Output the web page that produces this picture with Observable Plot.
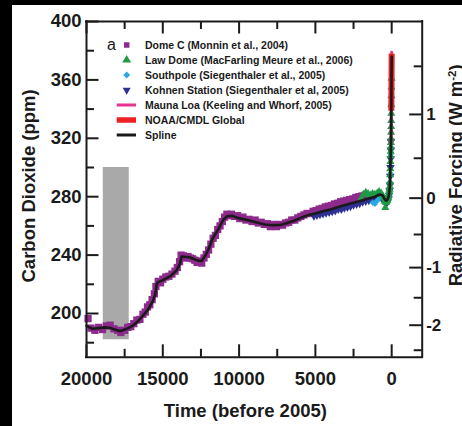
<!DOCTYPE html>
<html><head><meta charset="utf-8">
<script src="https://cdn.jsdelivr.net/npm/d3@7"></script>
<script src="https://cdn.jsdelivr.net/npm/@observablehq/plot@0.6"></script>
<style>
html,body{margin:0;padding:0;background:#000;width:462px;height:426px;overflow:hidden}
#chart{position:absolute;left:12px;top:5px;width:450px;height:421px;background:#fff;overflow:hidden}
</style></head><body><div id="chart"></div>
<script>
const FONT = "'Liberation Sans', Arial, Helvetica, sans-serif";

// ---- data: [years before 2005, CO2 ppm] ----
const spline = [[20000,191.5],[19600,189.5],[19200,190],[18800,190.5],[18400,190],[18000,188.5],[17800,187.8],[17500,189],[17250,190],[17000,191.5],[16700,194],[16300,198.5],[15950,203],[15650,208.5],[15500,213],[15400,220],[15300,221.5],[14950,223],[14450,226],[14100,229.5],[13880,234],[13770,239],[13250,238.5],[12700,236.2],[12450,236],[12250,239],[12000,244],[11750,251],[11350,258],[11050,264],[10800,266.5],[10450,267],[10100,265.5],[9800,264.8],[9400,263.8],[8900,262.5],[8300,261],[7800,260.5],[7300,260.6],[6900,261.8],[6400,263.5],[5900,265.8],[5500,267.3],[5000,268.5],[4500,270],[4000,271.3],[3500,273],[3000,274.5],[2500,275.8],[2000,277.3],[1500,278.8],[1100,280],[800,281.5],[600,281],[500,279],[400,277.5],[300,277.5],[200,280],[150,284],[120,288],[100,295],[80,303],[60,310],[45,317],[35,325],[25,339],[15,354],[5,369],[0,376]];

const domeC = [[19900,196.5],[19700,190],[19450,188.5],[19200,190.5],[18950,189],[18700,191.5],[18450,192],[18200,189.5],[17950,188.5],[17750,187],[17500,188.5],[17300,190.5],[17100,191],[16900,193],[16700,195.5],[16500,196],[16300,199.5],[16150,201],[16000,204.5],[15850,206],[15700,209.5],[15550,213.5],[15450,218.5],[15300,222],[15150,221],[15000,223.5],[14800,225],[14600,225.5],[14400,227],[14200,229],[14050,231.5],[13900,235.5],[13800,240],[13650,239.5],[13500,238],[13350,239],[13200,238],[13050,237.5],[12900,236.5],[12750,235],[12600,236],[12450,234.5],[12300,238],[12150,240.5],[12000,243.5],[11850,247.5],[11700,251.5],[11550,253.5],[11400,257.5],[11250,260],[11100,263],[10950,266],[10800,268],[10650,267],[10500,268],[10300,266.5],[10100,267],[9950,265],[9750,266],[9550,264],[9350,264.5],[9150,263],[8950,264],[8750,262],[8550,262.5],[8350,261],[8150,261.5],[7950,259.5],[7750,261],[7550,259.5],[7350,261],[7150,260.5],[6950,262],[6750,262.5],[6550,264],[6350,264],[6150,265.5],[5950,266.5],[5750,267.5],[5550,268.5],[5350,268.5],[5150,270],[4950,270.5],[4750,271.5],[4550,272],[4350,273],[4150,273.5],[3950,274],[3750,275],[3550,275.5],[3350,276.5],[3150,277],[2950,277.5],[2750,278],[2550,278.5],[2350,279.5],[2150,280],[1950,280.5],[1750,281]];

const kohnen = [[5100,267],[4900,267.5],[4700,268],[4500,268.5],[4300,269],[4100,269.5],[3900,270],[3700,270.5],[3500,271.5],[3300,271.5],[3100,272.5],[2900,273],[2700,273.5],[2500,274.5],[2300,275],[2100,275.5],[1900,276.5],[1700,277],[1500,277.5],[1350,279],[1200,278.5],[1050,280],[950,279.5],[850,281],[750,280],[650,279.5],[550,278],[450,276.5],[380,275.5],[320,276],[260,277],[210,279],[170,281],[140,284],[115,288],[95,294],[80,300],[65,306],[55,312],[48,318]];

const southpole = [[1250,276],[1100,275],[980,277],[870,278],[760,279.5],[660,280.5],[560,279.5],[470,278],[400,277],[330,277.5],[270,278.5],[220,280],[180,282],[140,285],[110,290],[90,296],[70,303],[55,309],[42,314]];

const lawDome = [[2000,279],[1850,281.5],[1700,283],[1550,282],[1400,281],[1250,282],[1100,281.5],[950,282.5],[820,283.5],[700,282.5],[600,281],[520,279],[470,277],[420,272.5],[380,276],[330,276.5],[280,277.5],[230,279],[190,281],[160,283.5],[140,285],[125,287],[110,290],[100,295],[90,299],[80,304],[72,308],[64,311],[57,314],[50,317],[44,320],[38,324],[33,328],[28,332],[24,337],[20,343],[16,349],[13,355],[10,361]];

const maunaLoa = [[47,315.9],[45,317.6],[40,320],[35,325.7],[30,331.1],[25,338.7],[20,345.9],[15,354.4],[10,361.8],[5,369.5],[0,379]];
const noaa = [[25,338.9],[20,345.4],[15,354],[10,361],[5,369],[0,378]];

// grey box (LGM) in data units
const lgmBox = [{x1: 18900, x2: 17200, y1: 182, y2: 300}];

// tick values
const xDomain = [20000, -2000];
const yDomain = [170, 400];
const xMajor = [20000, 15000, 10000, 5000, 0];
const xMinor = [17500, 12500, 7500, 2500];
const yMajor = [200, 240, 280, 320, 360, 400];
const yMinor = [180, 220, 260, 300, 340, 380];
const rfMajor = [-2, -1, 0, 1];
const rfMinor = [-2.5, -1.5, -0.5, 0.5, 1.5];
const C0 = 279; // ppm at zero forcing
const rfToCO2 = rf => C0 * Math.exp(rf / 5.35);

const legendLabels = ["Dome C (Monnin et al., 2004)", "Law Dome (MacFarling Meure et al., 2006)", "Southpole (Siegenthaler et al., 2005)", "Kohnen Station (Siegenthaler et al, 2005)", "Mauna Loa (Keeling and Whorf, 2005)", "NOAA/CMDL Global", "Spline"];

// colours
const cPurple = "#8e2a8c", cGreen = "#1f9a45", cCyan = "#29a9e1", cBlue = "#2e3192", cPink = "#e8358f", cRed = "#ec2227", cInk = "#1a1a1a";

// ---- layout ----
const W = 450, H = 421, mt = 16, mb = 69.2, ml = 74, mr = 40.3;
const frameH = H - mt - mb, frameW = W - ml - mr;
const majLen = 12.5, minLen = 8;

const X = d => d[0], Y = d => d[1];
const bold = {fontWeight: "bold", fill: cInk, lineAnchor: "middle"};

const svg = Plot.plot({
  width: W, height: H,
  marginTop: mt, marginBottom: mb, marginLeft: ml, marginRight: mr,
  style: {fontFamily: FONT, background: "white", overflow: "visible", color: cInk},
  x: {domain: xDomain, axis: null},
  y: {domain: yDomain, axis: null},
  marks: [
    Plot.rect(lgmBox, {x1: "x1", x2: "x2", y1: "y1", y2: "y2", fill: "#a9a9a9"}),
    Plot.dot(domeC, {x: X, y: Y, symbol: "square", r: 4.1, fill: cPurple}),
    Plot.dot(kohnen, {x: X, y: Y, symbol: "triangle", rotate: 180, r: 3.2, fill: cBlue}),
    Plot.dot(southpole, {x: X, y: Y, symbol: "diamond2", r: 2.8, fill: cCyan}),
    Plot.dot(lawDome, {x: X, y: Y, symbol: "triangle", r: 3, fill: cGreen}),
    Plot.line(maunaLoa, {x: X, y: Y, stroke: cPink, strokeWidth: 3}),
    Plot.line(noaa, {x: X, y: Y, stroke: cRed, strokeWidth: 6, strokeLinecap: "butt"}),
    Plot.line(spline, {x: X, y: Y, stroke: cInk, strokeWidth: 2.6, strokeLinejoin: "round"}),
    // ticks (inward)
    Plot.tickX(xMajor, {x: d => d, insetTop: frameH - majLen, stroke: cInk, strokeWidth: 2}),
    Plot.tickX(xMinor, {x: d => d, insetTop: frameH - minLen, stroke: cInk, strokeWidth: 2}),
    Plot.tickX(xMajor, {x: d => d, insetBottom: frameH - majLen, stroke: cInk, strokeWidth: 2}),
    Plot.tickX(xMinor, {x: d => d, insetBottom: frameH - minLen, stroke: cInk, strokeWidth: 2}),
    Plot.tickY(yMajor, {y: d => d, insetRight: frameW - majLen, stroke: cInk, strokeWidth: 2}),
    Plot.tickY(yMinor, {y: d => d, insetRight: frameW - minLen, stroke: cInk, strokeWidth: 2}),
    Plot.tickY(rfMajor, {y: rfToCO2, insetLeft: frameW - majLen, stroke: cInk, strokeWidth: 2}),
    Plot.tickY(rfMinor, {y: rfToCO2, insetLeft: frameW - minLen, stroke: cInk, strokeWidth: 2}),
    // frame
    Plot.ruleX(xDomain, {x: d => d, stroke: cInk, strokeWidth: 2, strokeLinecap: "square"}),
    Plot.ruleY(yDomain, {y: d => d, stroke: cInk, strokeWidth: 2, strokeLinecap: "square"}),
    // tick labels
    Plot.text(xMajor, {x: d => d, text: d => String(d), frameAnchor: "bottom", dy: 22, fontSize: 18.5, ...bold}),
    Plot.text(yMajor, {y: d => d, text: d => String(d), frameAnchor: "left", textAnchor: "end", dx: -5, fontSize: 18.5, ...bold}),
    Plot.text(rfMajor, {y: rfToCO2, text: d => String(d), frameAnchor: "right", textAnchor: "start", dx: 4, fontSize: 17, ...bold}),
    // titles
    Plot.text(["Time (before 2005)"], {text: d => d, frameAnchor: "bottom", textAnchor: "middle", dx: -9, dy: 54, fontSize: 18.5, ...bold}),
    Plot.text(["Carbon Dioxide (ppm)"], {text: d => d, frameAnchor: "left", textAnchor: "middle", dx: -57, dy: -3.5, rotate: -90, fontSize: 18.5, ...bold}),
    Plot.text(["Radiative Forcing (W m-2)"], {text: d => d, frameAnchor: "right", textAnchor: "middle", dx: 34, dy: -14, rotate: -90, fontSize: 18.5, ...bold})
  ]
});

// superscript for the right title
d3.select(svg).selectAll("text").filter(function() { return this.textContent === "Radiative Forcing (W m-2)"; })
  .each(function() {
    const t = d3.select(this);
    t.text(null);
    t.append("tspan").text("Radiative Forcing (W m");
    t.append("tspan").attr("dy", "-0.55em").attr("font-size", "0.62em").text("-2");
    t.append("tspan").attr("dy", "0.34em").text(")");
  });

// legend
const lg = d3.select(svg).append("g").attr("font-family", FONT).attr("fill", cInk).attr("text-anchor", "start");
lg.append("text").attr("x", 95).attr("y", 40).attr("dy", "0.33em").attr("font-size", 16).text("a");
const legendMarks = [
  {type: "sym", sym: d3.symbolSquare, size: 30, fill: cPurple},
  {type: "sym", sym: d3.symbolTriangle, size: 34, fill: cGreen},
  {type: "sym", sym: d3.symbolDiamond2, size: 30, fill: cCyan},
  {type: "sym", sym: d3.symbolTriangle, size: 28, fill: cBlue, rot: 180},
  {type: "line", stroke: cPink, w: 3},
  {type: "line", stroke: cRed, w: 5.5},
  {type: "line", stroke: cInk, w: 3}
];
legendLabels.forEach((lab, i) => {
  const cy = 40 + i * 15;
  const m = legendMarks[i];
  if (m.type === "sym") {
    lg.append("path").attr("d", d3.symbol(m.sym, m.size)())
      .attr("transform", `translate(114.7,${cy})` + (m.rot ? ` rotate(${m.rot})` : ""))
      .attr("fill", m.fill);
  } else {
    lg.append("line").attr("x1", 104.7).attr("x2", 124).attr("y1", cy).attr("y2", cy)
      .attr("stroke", m.stroke).attr("stroke-width", m.w);
  }
  lg.append("text").attr("x", 133).attr("y", cy).attr("dy", "0.36em")
    .attr("font-size", 10.5).attr("font-weight", "bold").text(lab);
});

document.getElementById("chart").appendChild(svg);
</script>
</body></html>
